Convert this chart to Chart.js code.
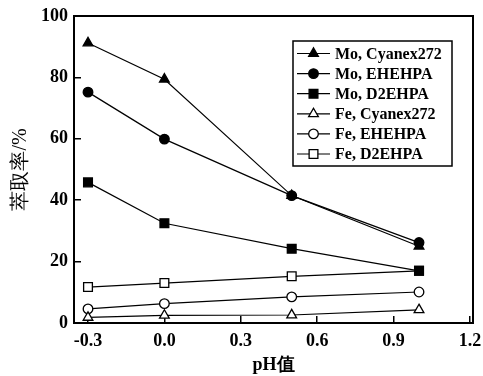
<!DOCTYPE html>
<html>
<head>
<meta charset="utf-8">
<script src="https://cdn.jsdelivr.net/npm/chart.js@4.4.1/dist/chart.umd.min.js"></script>
<style>
  html, body { margin: 0; padding: 0; background: #fff; }
</style>
</head>
<body>
<canvas id="chart" width="483" height="376"></canvas>
<script>
const phValues = [-0.3, 0.0, 0.5, 1.0];
const xTicks = [-0.3, 0.0, 0.3, 0.6, 0.9, 1.2];
const yTicks = [0, 20, 40, 60, 80, 100];

const moCyanex = [91.2, 79.4, 41.5, 25.0];
const moEhehpa = [75.2, 59.9, 41.5, 26.2];
const moD2ehpa = [45.8, 32.5, 24.2, 17.0];
const feCyanex = [1.8, 2.5, 2.6, 4.3];
const feEhehpa = [4.6, 6.3, 8.5, 10.1];
const feD2ehpa = [11.7, 13.0, 15.2, 17.0];

const seriesNames = ["Mo, Cyanex272", "Mo, EHEHPA", "Mo, D2EHPA", "Fe, Cyanex272", "Fe, EHEHPA", "Fe, D2EHPA"];

const serif = "'Liberation Serif', 'Times New Roman', serif";

function makeSet(label, values, style, filled) {
    const radius = style === "rect" ? 6.2 : style === "triangle" ? 5.6 : 4.8;
    return {
        label,
        data: values.map((v, i) => ({ x: phValues[i], y: v })),
        borderColor: "#000",
        borderWidth: 1.2,
        pointStyle: style,
        pointRadius: radius,
        pointBorderWidth: 1.3,
        pointBackgroundColor: filled ? "#000" : "#fff",
        pointBorderColor: "#000",
        fill: false,
        tension: 0
    };
}

const datasets = [
    makeSet(seriesNames[0], moCyanex, "triangle", true),
    makeSet(seriesNames[1], moEhehpa, "circle", true),
    makeSet(seriesNames[2], moD2ehpa, "rect", true),
    makeSet(seriesNames[3], feCyanex, "triangle", false),
    makeSet(seriesNames[4], feEhehpa, "circle", false),
    makeSet(seriesNames[5], feD2ehpa, "rect", false)
];

// frame around plot + legend box inside it
const framePlugin = {
    id: "frame",
    afterDraw(chart) {
        const { ctx, chartArea: a } = chart;
        ctx.save();
        ctx.strokeStyle = "#000";
        ctx.lineWidth = 2;
        ctx.strokeRect(a.left, a.top, a.right - a.left, a.bottom - a.top);

        // legend
        const bx = 293, by = 41, bw = 159, bh = 125;
        ctx.lineWidth = 1.5;
        ctx.fillStyle = "#fff";
        ctx.fillRect(bx, by, bw, bh);
        ctx.strokeRect(bx, by, bw, bh);
        ctx.font = "bold 16px " + serif;
        ctx.textBaseline = "middle";
        chart.data.datasets.forEach((ds, i) => {
            const y = by + 12.5 + i * 20.1;
            ctx.strokeStyle = "#000";
            ctx.lineWidth = 1.2;
            ctx.beginPath();
            ctx.moveTo(bx + 4, y);
            ctx.lineTo(bx + 37, y);
            ctx.stroke();
            ctx.fillStyle = ds.pointBackgroundColor;
            ctx.lineWidth = ds.pointBorderWidth;
            Chart.helpers.drawPoint(ctx, {
                pointStyle: ds.pointStyle,
                radius: ds.pointRadius,
                rotation: 0,
                borderWidth: ds.pointBorderWidth
            }, bx + 20.5, y);
            ctx.fillStyle = "#000";
            ctx.fillText(ds.label, bx + 42, y + 1);
        });
        ctx.restore();
    }
};

const noPad = s => { s.paddingLeft = 0; s.paddingRight = 0; s.paddingTop = 0; s.paddingBottom = 0; };

new Chart(document.getElementById("chart"), {
    type: "line",
    data: { datasets },
    options: {
        responsive: false,
        animation: false,
        layout: { padding: { left: 0, top: 16, right: 10, bottom: 0 } },
        plugins: { legend: { display: false }, tooltip: { enabled: false } },
        scales: {
            x: {
                type: "linear",
                min: -0.355,
                max: 1.212,
                afterBuildTicks: s => { s.ticks = xTicks.map(v => ({ value: v })); },
                afterFit: s => { s.height = 53; noPad(s); },
                border: { display: false },
                grid: { drawOnChartArea: false, drawTicks: true, tickLength: -7, color: "#000", lineWidth: 1.5 },
                ticks: {
                    color: "#000",
                    padding: 15,
                    maxRotation: 0,
                    font: { family: serif, size: 18, weight: "bold" },
                    callback: v => v.toFixed(1)
                },
                title: {
                    display: true,
                    text: "pH值",
                    color: "#000",
                    padding: { top: 0, bottom: 0 },
                    font: { family: serif, size: 18, weight: "bold" }
                }
            },
            y: {
                min: 0,
                max: 100,
                afterBuildTicks: s => { s.ticks = yTicks.map(v => ({ value: v })); },
                afterFit: s => { s.width = 74; noPad(s); },
                border: { display: false },
                grid: { drawOnChartArea: false, drawTicks: true, tickLength: -7, color: "#000", lineWidth: 1.5 },
                ticks: {
                    color: "#000",
                    padding: 13,
                    font: { family: serif, size: 18, weight: "bold" }
                },
                title: {
                    display: true,
                    text: "萃取率/%",
                    color: "#000",
                    padding: { top: 9, bottom: 0 },
                    font: { family: serif, size: 20 }
                }
            }
        }
    },
    plugins: [framePlugin]
});
</script>
</body>
</html>
